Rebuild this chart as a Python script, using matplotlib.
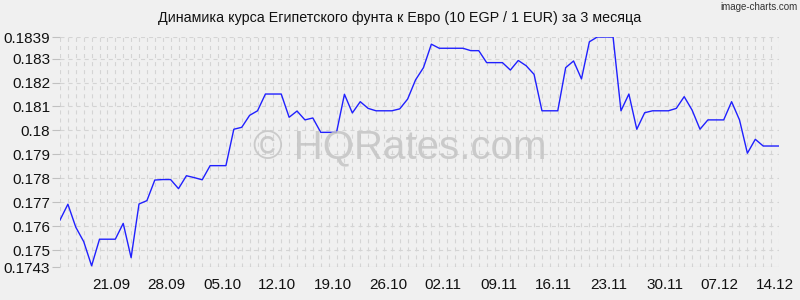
import numpy as np
import pandas as pd
import matplotlib
matplotlib.use("Agg")
import matplotlib.pyplot as plt
import matplotlib.dates as mdates
import matplotlib.transforms as mtransforms

plt.rcParams['font.family'] = ['Liberation Sans', 'DejaVu Sans']
plt.rcParams['lines.scale_dashes'] = False

# daily EGP/EUR rate (10 EGP / 1 EUR), 15.09 - 15.12
rates = [
    0.17626, 0.17692, 0.17596, 0.17536, 0.17435, 0.17546, 0.17546, 0.17546,
    0.17612, 0.17469, 0.17693, 0.17707, 0.17793, 0.17795, 0.17795, 0.17757,
    0.17811, 0.17803, 0.17794, 0.17853, 0.17853, 0.17853, 0.18005, 0.18013,
    0.18063, 0.18082, 0.18152, 0.18152, 0.18152, 0.18055, 0.18081, 0.18044,
    0.18052, 0.17992, 0.17992, 0.17992, 0.18151, 0.18073, 0.18120, 0.18092,
    0.18082, 0.18082, 0.18082, 0.18090, 0.18131, 0.18211, 0.18262, 0.18360,
    0.18343, 0.18343, 0.18343, 0.18343, 0.18333, 0.18333, 0.18283, 0.18283,
    0.18283, 0.18252, 0.18292, 0.18270, 0.18234, 0.18082, 0.18082, 0.18082,
    0.18262, 0.18290, 0.18215, 0.18370, 0.18390, 0.18390, 0.18390, 0.18082,
    0.18152, 0.18005, 0.18074, 0.18082, 0.18082, 0.18082, 0.18092, 0.18141,
    0.18085, 0.18005, 0.18044, 0.18044, 0.18044, 0.18120, 0.18044, 0.17905,
    0.17963, 0.17935, 0.17935, 0.17935,
]
start_date = "2023-09-15"
y_ticks = [0.1743, 0.175, 0.176, 0.177, 0.178, 0.179, 0.18, 0.181, 0.182, 0.183, 0.1839]
y_tick_labels = ["0.1743", "0.175", "0.176", "0.177", "0.178", "0.179", "0.18",
                 "0.181", "0.182", "0.183", "0.1839"]
title = "Динамика курса Египетского фунта к Евро (10 EGP / 1 EUR) за 3 месяца"

dates = pd.date_range(start_date, periods=len(rates), freq="D")

bg = "#f0f0f0"
fig = plt.figure(figsize=(8, 3), dpi=100, facecolor=bg)
ax = fig.add_axes([60 / 800, 33 / 300, 719 / 800, 230 / 300], facecolor=bg)

ax.plot(dates, rates, color="#2020ff", lw=1.0, zorder=3)

ax.set_xlim(dates[0], dates[-1])
ax.set_ylim(y_ticks[0], y_ticks[-1])

# grid: every day vertically, each tick horizontally
for d in dates:
    ax.axvline(d, color="#d4d4d4", lw=0.8, dashes=(2.9, 2.9), zorder=1)
for v in y_ticks[1:]:
    ax.axhline(v, color="#d4d4d4", lw=0.8, dashes=(2.9, 2.9), zorder=1)
ax.axhline(y_ticks[0], color="#c0c0c0", lw=0.8, zorder=1)

ax.set_yticks(y_ticks)
ax.set_yticklabels(y_tick_labels)
week_ticks = pd.date_range(dates[6], dates[-1], freq="7D")
ax.set_xticks(week_ticks)
ax.xaxis.set_major_formatter(mdates.DateFormatter("%d.%m"))

for s in ax.spines.values():
    s.set_visible(False)
ax.tick_params(axis="y", length=6, color="#c0c0c0", labelsize=11, pad=1, labelcolor="#111111")
ax.tick_params(axis="x", length=0, labelsize=11, pad=8, labelcolor="#111111")

# x labels sit a few pixels right of their day
shift = mtransforms.ScaledTranslation(4 / 100, 0, fig.dpi_scale_trans)
for lbl in ax.get_xticklabels():
    lbl.set_transform(lbl.get_transform() + shift)

fig.text(0.5, 1 - 18 / 300, title, ha="center", va="center", fontsize=10.3, color="#111111")
fig.text(0.997, 1 - 7 / 300, "image-charts.com", ha="right", va="center", fontsize=7,
         color="#333333")
fig.text(0.5, 1 - 148 / 300, "© HQRates.com", ha="center", va="center", fontsize=29,
         color="#c4c4c4", alpha=0.85, zorder=0)

fig.savefig("out.png", dpi=100, facecolor=bg)
